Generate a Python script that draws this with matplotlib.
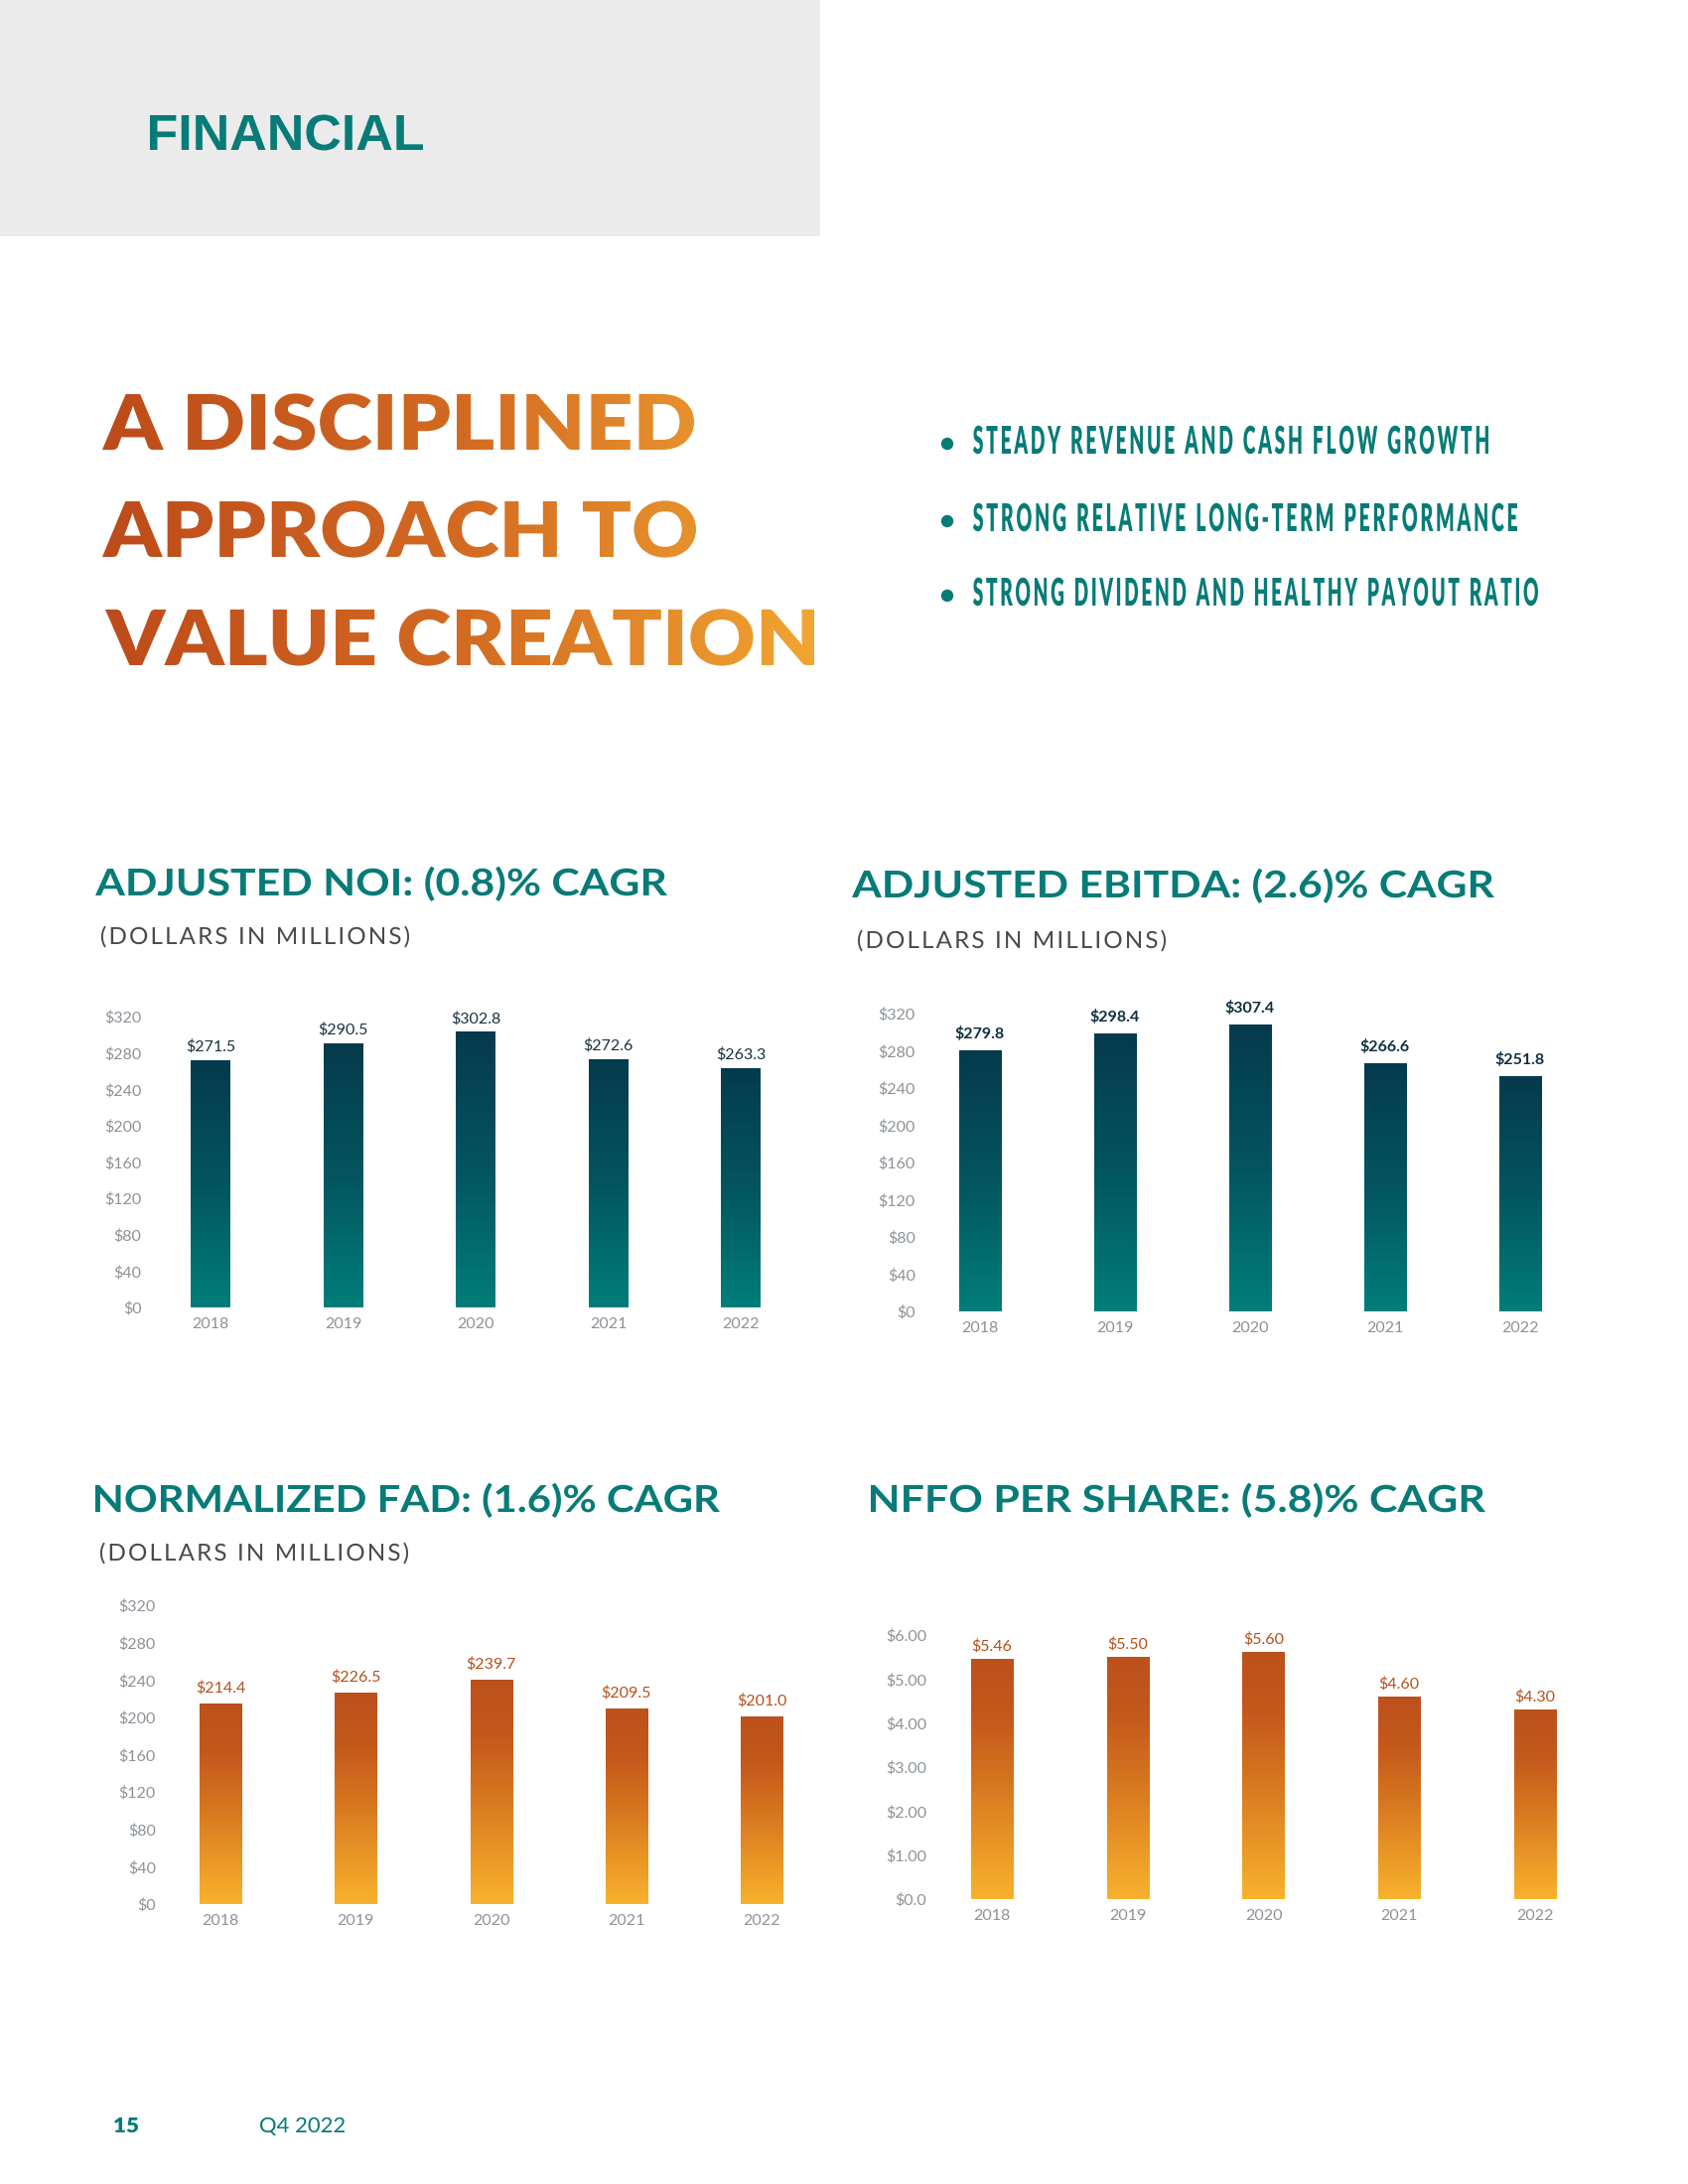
import numpy as np
import matplotlib
matplotlib.use('Agg')
import matplotlib.pyplot as plt
from matplotlib import font_manager
from matplotlib.font_manager import FontProperties
from matplotlib.textpath import TextPath, text_to_path
from matplotlib.patches import PathPatch, Rectangle, Circle
from matplotlib.path import Path
from matplotlib.transforms import Affine2D
from matplotlib.colors import LinearSegmentedColormap


# data
years = ['2018', '2019', '2020', '2021', '2022']
noi = [271.5, 290.5, 302.8, 272.6, 263.3]
ebitda = [279.8, 298.4, 307.4, 266.6, 251.8]
fad = [214.4, 226.5, 239.7, 209.5, 201.0]
nffo = [5.46, 5.50, 5.60, 4.60, 4.30]

money_ticks = [0, 40, 80, 120, 160, 200, 240, 280, 320]
money_tick_labels = ['$0', '$40', '$80', '$120', '$160', '$200', '$240', '$280', '$320']
share_ticks = [0, 1, 2, 3, 4, 5, 6]
share_tick_labels = ['$0.0', '$1.00', '$2.00', '$3.00', '$4.00', '$5.00', '$6.00']

titles = ['ADJUSTED NOI: (0.8)% CAGR', 'ADJUSTED EBITDA: (2.6)% CAGR',
          'NORMALIZED FAD: (1.6)% CAGR', 'NFFO PER SHARE: (5.8)% CAGR']
subtitle = '(DOLLARS IN MILLIONS)'
headline = ['A DISCIPLINED', 'APPROACH TO', 'VALUE CREATION']
bullets = ['STEADY REVENUE AND CASH FLOW GROWTH',
           'STRONG RELATIVE LONG-TERM PERFORMANCE',
           'STRONG DIVIDEND AND HEALTHY PAYOUT RATIO']

W, H = 1700, 2200
TEAL = '#077b77'


def pick(*names):
    for n in names:
        try:
            font_manager.findfont(FontProperties(family=n), fallback_to_default=False)
            return n
        except Exception:
            pass
    return 'DejaVu Sans'


lato = pick('Lato', 'Roboto', 'Open Sans')
sans = pick('Liberation Sans', 'Roboto')
plt.rcParams['font.family'] = [lato, 'DejaVu Sans']


def text_path(s, x, base, width, cap, family, weight='bold', track=0):
    # text as a path, fitted to an ink box measured on the page
    fp = FontProperties(family=family, weight=weight, size=100)
    if track:
        parts, cur = [], 0.0
        for ch in s:
            if ch != ' ':
                parts.append(TextPath((cur, 0), ch, size=100, prop=fp))
            cur += text_to_path.get_text_width_height_descent(ch, fp, ismath=False)[0] + track
        tp = Path.make_compound_path(*parts)
    else:
        tp = TextPath((0, 0), s, size=100, prop=fp)
    cap_h = TextPath((0, 0), 'H', size=100, prop=fp).get_extents().y1
    bb = tp.get_extents()
    tr = Affine2D().translate(-bb.x0, 0).scale(width / bb.width, cap / cap_h).translate(x, H - base)
    return tr.transform_path(tp)


def solid(path, color, z=3):
    page.add_patch(PathPatch(path, facecolor=color, edgecolor='none', lw=0, zorder=z))


fig = plt.figure(figsize=(17, 22), dpi=100, facecolor='white')
page = fig.add_axes([0, 0, 1, 1], zorder=0)
page.axis('off')

# header block
page.add_patch(Rectangle((0, H - 238), 826, 238, facecolor='#ebebeb', edgecolor='none'))
solid(text_path('FINANCIAL', 151, 151, 275, 35, sans, 'bold'), TEAL)

# gradient headline
head_box = [(103, 453, 596), (103, 561, 598), (106, 670, 714)]
paths = [text_path(s, x, b, w, 56, lato, 'heavy') for s, (x, b, w) in zip(headline, head_box)]
clip = PathPatch(Path.make_compound_path(*paths), facecolor='none', edgecolor='none')
page.add_patch(clip)
head_cmap = LinearSegmentedColormap.from_list('head', ['#bd4b1b', '#d26a22', '#f2a532'])
im = page.imshow(np.linspace(0, 1, 256).reshape(1, -1), cmap=head_cmap, aspect='auto',
                 extent=(103, 820, H - 700, H - 380), zorder=3)
im.set_clip_path(clip)

# bullets
bullet_box = [(457, 447, 519), (535, 525, 548), (610, 600, 569)]
for s, (b, dot_y, w) in zip(bullets, bullet_box):
    page.add_patch(Circle((954, H - dot_y), 5.5, color=TEAL))
    solid(text_path(s, 980, b, w, 28, lato, 'heavy', track=14), TEAL)

# chart titles
title_box = [(96, 902, 576), (858, 904, 647), (96, 1523, 629), (877, 1523, 619)]
for s, (x, b, w) in zip(titles, title_box):
    solid(text_path(s, x, b, w, 27, lato, 'bold'), TEAL)
for x, b in [(102, 951), (864, 955), (101, 1572)]:
    solid(text_path(subtitle, x, b, 310, 17, lato, 'normal', track=9), '#4a4a4a')

# footer
solid(text_path('15', 115, 2148, 24, 15, lato, 'heavy'), TEAL)
solid(text_path('Q4 2022', 262, 2148, 85, 15, lato, 'normal'), TEAL)

page.set_xlim(0, W)
page.set_ylim(0, H)

teal_cmap = LinearSegmentedColormap.from_list('teal', ['#007e7a', '#03555f', '#053a4d'])
orange_cmap = LinearSegmentedColormap.from_list(
    'orange', [(0, '#f8b22c'), (0.5, '#d5741f'), (0.75, '#c4591c'), (1, '#bc511b')])


def bar_chart(box, values, ticks, tick_labels, fmt, cmap, lab_color, lab_weight, lab_off, ypad):
    left, bottom, width, height, ymax, bar_w = box
    ax = fig.add_axes([left / W, (H - bottom) / H, width / W, height / H], zorder=2)
    ax.set_facecolor('none')
    x = np.arange(len(years))
    bars = ax.bar(x, values, width=bar_w, color='none', lw=0)
    grad = np.linspace(0, 1, 256).reshape(-1, 1)
    for b in bars:
        ax.imshow(grad, cmap=cmap, origin='lower', aspect='auto', zorder=2,
                  extent=(b.get_x(), b.get_x() + b.get_width(), 0, b.get_height()))
    for xi, v in zip(x, values):
        ax.annotate(fmt.format(v), (xi, v), xytext=(0, lab_off), textcoords='offset points',
                    ha='center', va='baseline', fontsize=11.5, color=lab_color,
                    fontweight=lab_weight)
    ax.set_xticks(x, years)
    ax.set_yticks(ticks, tick_labels)
    ax.tick_params(axis='both', length=0, labelsize=11.5, labelcolor='#8b9298')
    ax.tick_params(axis='x', pad=7)
    ax.tick_params(axis='y', pad=ypad)
    for sp in ax.spines.values():
        sp.set_visible(False)
    ax.set_xlim(-0.5, len(years) - 0.5)
    ax.set_ylim(0, ymax)
    return ax


bar_chart((145.25, 1317, 667.5, 292.8, 320, 0.295), noi, money_ticks, money_tick_labels,
          '${:.1f}', teal_cmap, '#17313f', 'normal', 7, 2)
bar_chart((919, 1321, 680, 300, 320, 0.31), ebitda, money_ticks, money_tick_labels,
          '${:.1f}', teal_cmap, '#0d2f3f', 'bold', 9, -2)
bar_chart((154, 1918, 681.25, 300.8, 320, 0.31), fad, money_ticks, money_tick_labels,
          '${:.1f}', orange_cmap, '#b5501c', 'normal', 8.5, -2)
bar_chart((930.6, 1913, 683.75, 265.8, 6, 0.31), nffo, share_ticks, share_tick_labels,
          '${:.2f}', orange_cmap, '#b5501c', 'normal', 6.5, -2)

fig.savefig('out.png', dpi=100, facecolor='white')
